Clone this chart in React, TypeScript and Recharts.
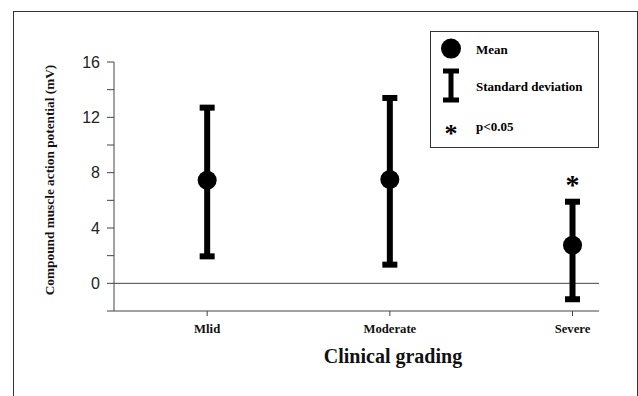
import React from 'react';
import { ComposedChart, Line, ErrorBar, XAxis, YAxis, ReferenceLine, Legend, Label } from 'recharts';

const categories = ['Mlid', 'Moderate', 'Severe'];
const positions = [1, 2, 3];
const means = [7.45, 7.5, 2.75];
const upper = [12.7, 13.4, 5.9];
const lower = [1.95, 1.35, -1.15];
const significant = [false, false, true];
const yTicks = [-2, 0, 2, 4, 6, 8, 10, 12, 14, 16];

const data = categories.map((name, i) => ({
  pos: positions[i],
  name,
  mean: means[i],
  err: [means[i] - lower[i], upper[i] - means[i]],
  star: significant[i] ? upper[i] : null,
}));

const serif = '"Liberation Serif", "Times New Roman", serif';
const sans = '"Liberation Sans", Arial, sans-serif';

const renderMean = (p: any) => (
  <circle key={`m-${p.index}`} cx={p.cx} cy={p.cy} r={9.5} fill="#000" />
);

const renderStar = (p: any) => {
  if (p.value == null || p.cy == null) return <g key={`s-${p.index}`} />;
  return (
    <text key={`s-${p.index}`} x={p.cx} y={p.cy - 8} textAnchor="middle"
      fontFamily={serif} fontWeight="bold" fontSize={28} fill="#000">*</text>
  );
};

const LegendBox = () => (
  <svg width={169} height={117} style={{ display: 'block' }}>
    <rect x={0.5} y={0.5} width={168} height={116} fill="#fff" stroke="#333" />
    <circle cx={21} cy={17.6} r={10} fill="#000" />
    <text x={46} y={22.5} fontFamily={serif} fontWeight="bold" fontSize={13} fill="#000">Mean</text>
    <line x1={21} y1={40} x2={21} y2={69} stroke="#000" strokeWidth={5} />
    <line x1={13} y1={40} x2={29} y2={40} stroke="#000" strokeWidth={5} />
    <line x1={13} y1={69} x2={29} y2={69} stroke="#000" strokeWidth={5} />
    <text x={46} y={60} fontFamily={serif} fontWeight="bold" fontSize={13} fill="#000">Standard deviation</text>
    <text x={21} y={111} textAnchor="middle" fontFamily={serif} fontWeight="bold" fontSize={26} fill="#000">*</text>
    <text x={46} y={100} fontFamily={serif} fontWeight="bold" fontSize={13} fill="#000">p&lt;0.05</text>
  </svg>
);

export default function App() {
  return (
    <div style={{ position: 'absolute', left: 0, top: 0, width: 638, height: 396, background: '#fff' }}>
      <div style={{ position: 'absolute', left: 13, top: 11, width: 623, height: 400, border: '1px solid #333', borderBottom: 'none', pointerEvents: 'none' }} />
      <ComposedChart width={638} height={396} data={data} margin={{ top: 62, right: 39, bottom: 0, left: 0 }}>
        <XAxis
          dataKey="pos"
          type="number"
          domain={[0.49, 3.145]}
          ticks={positions}
          tickFormatter={(v: number) => categories[positions.indexOf(v)] ?? ''}
          stroke="#444"
          tickSize={5}
          tickMargin={8}
          tick={{ fontFamily: serif, fontWeight: 'bold', fontSize: 12.7, fill: '#111' }}
          height={85}
        >
          <Label
            content={() => (
              <text x={393} y={363} textAnchor="middle" fontFamily={serif} fontWeight="bold" fontSize={20} fill="#111">
                Clinical grading
              </text>
            )}
          />
        </XAxis>
        <YAxis
          type="number"
          domain={[-2, 16]}
          ticks={yTicks}
          interval={0}
          tickFormatter={(v: number) => (v % 4 === 0 ? String(v) : '')}
          stroke="#444"
          tickSize={7}
          tickMargin={7}
          tick={{ fontFamily: sans, fontSize: 16, fill: '#222' }}
          width={114}
        >
          <Label
            content={() => (
              <text x={54} y={180} transform="rotate(-90 54 180)" textAnchor="middle" fontFamily={serif} fontWeight="bold" fontSize={13.3} fill="#111">
                Compound muscle action potential (mV)
              </text>
            )}
          />
        </YAxis>
        <ReferenceLine y={0} stroke="#444" strokeWidth={1} />
        <Line dataKey="mean" stroke="none" dot={renderMean} activeDot={false} isAnimationActive={false} legendType="none">
          <ErrorBar dataKey="err" direction="y" width={7.5} strokeWidth={6} stroke="#000" />
        </Line>
        <Line dataKey="star" stroke="none" dot={renderStar} activeDot={false} isAnimationActive={false} legendType="none" />
        <Legend
          layout="horizontal"
          verticalAlign="middle"
          align="center"
          content={() => <LegendBox />}
          wrapperStyle={{ position: 'absolute', left: 430, top: 31, width: 169, height: 117 }}
        />
      </ComposedChart>
    </div>
  );
}
